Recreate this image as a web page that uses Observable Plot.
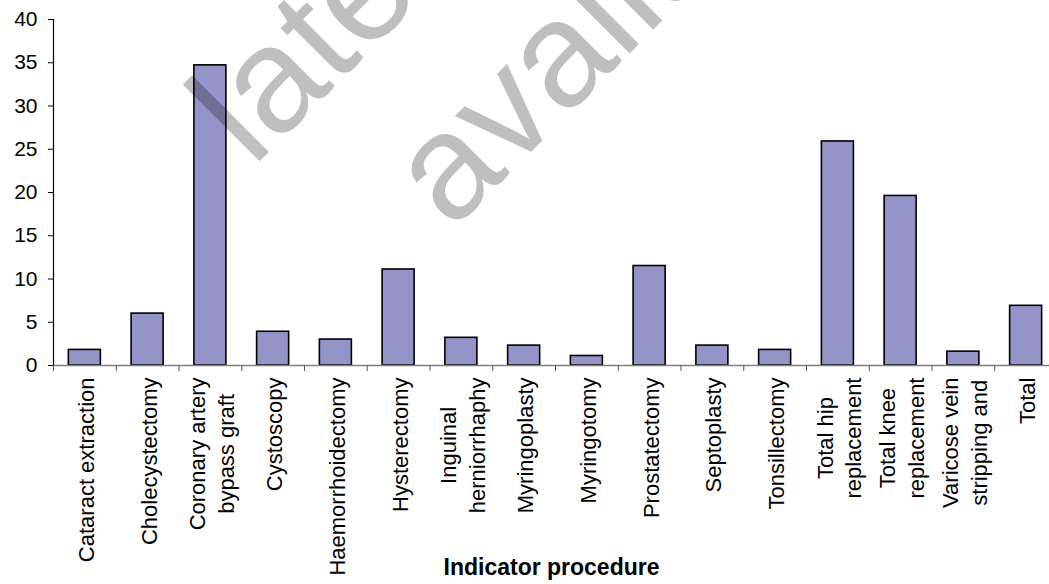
<!DOCTYPE html>
<html>
<head>
<meta charset="utf-8">
<script src="https://cdn.jsdelivr.net/npm/d3@7"></script>
<script src="https://cdn.jsdelivr.net/npm/@observablehq/plot@0.6"></script>
<style>
  html, body { margin: 0; padding: 0; background: #fff; }
  #chart svg { display: block; overflow: hidden; }
</style>
</head>
<body>
<div id="chart"></div>
<script>
// ---- data ----
const procedures = [
  "Cataract extraction",
  "Cholecystectomy",
  "Coronary artery\nbypass graft",
  "Cystoscopy",
  "Haemorrhoidectomy",
  "Hysterectomy",
  "Inguinal\nherniorrhaphy",
  "Myringoplasty",
  "Myringotomy",
  "Prostatectomy",
  "Septoplasty",
  "Tonsillectomy",
  "Total hip\nreplacement",
  "Total knee\nreplacement",
  "Varicose vein\nstripping and",
  "Total"
];
const values = [1.8, 6.0, 34.7, 3.9, 3.0, 11.1, 3.2, 2.3, 1.1, 11.5, 2.3, 1.8, 25.9, 19.6, 1.6, 6.9];
const yTicks = [0, 5, 10, 15, 20, 25, 30, 35, 40];
const axisTitle = "Indicator procedure";
const watermarkLines = ["later", "available"];

// ---- layout ----
const W = 1049, H = 584;
const mLeft = 53, mTop = 19, yZero = 365;
const xRange = [53, 1057];
const step = (xRange[1] - xRange[0]) / procedures.length;
const fontFamily = "'Liberation Sans', Arial, Helvetica, sans-serif";
const fs = 21;     // y tick labels
const fsX = 22;    // x tick labels

const data = procedures.map((p, i) => ({procedure: p, value: values[i]}));

const chart = Plot.plot({
  width: W,
  height: H,
  marginLeft: mLeft,
  marginRight: 0,
  marginTop: mTop,
  marginBottom: H - yZero,
  style: {fontFamily, fontSize: fs + "px", background: "#fff", color: "#000"},
  x: {domain: procedures, range: xRange, padding: 0, round: false},
  y: {domain: [0, 40]},
  marks: [
    Plot.barY(data, {
      x: "procedure", y: "value",
      fill: "#9494C8", stroke: "#000", strokeWidth: 1.6,
      insetLeft: step * 0.245, insetRight: step * 0.245
    }),
    Plot.ruleY([0], {stroke: "#808080", strokeWidth: 1.3}),
    Plot.ruleX([procedures[0]], {y1: 0, y2: 40, dx: -step / 2, stroke: "#000", strokeWidth: 1.2}),
    Plot.axisY({ticks: yTicks, tickSize: 5, tickPadding: 11, fontSize: fs, stroke: "#000", label: null}),
    Plot.axisX({tickSize: 6, tickFormat: () => "", dx: -step / 2, stroke: "#555", label: null}),
    Plot.axisX({tickSize: 0, tickPadding: 12, tickRotate: -90, fontSize: fsX, dx: 2, label: null}),
    Plot.text([axisTitle], {frameAnchor: "bottom", dy: 209, fontWeight: "bold", fontSize: 23, fill: "#000"}),
    Plot.text([watermarkLines[0]], {
      frameAnchor: "top-left", dx: 252 - mLeft, dy: 168 - mTop,
      rotate: -45, textAnchor: "start", lineAnchor: "bottom",
      fontSize: 150, fill: "#000", fillOpacity: 0.25
    }),
    Plot.text([watermarkLines[1]], {
      frameAnchor: "top-left", dx: 451 - mLeft, dy: 231 - mTop,
      rotate: -45, textAnchor: "start", lineAnchor: "bottom",
      fontSize: 150, fill: "#000", fillOpacity: 0.25
    })
  ]
});

document.getElementById("chart").append(chart);

// centre the lines of multi-line tick labels within their block
const L = 28.5;
chart.querySelectorAll('g[aria-label="x-axis tick label"] text').forEach(t => {
  const spans = t.querySelectorAll("tspan");
  if (spans.length < 2) return;
  const widths = [...spans].map(s => s.getComputedTextLength());
  const maxW = Math.max(...widths);
  t.setAttribute("text-anchor", "middle");
  t.removeAttribute("dy");
  spans.forEach((s, i) => {
    s.setAttribute("x", -maxW / 2);
    s.removeAttribute("dy");
    s.setAttribute("y", (i - (spans.length - 1) / 2) * L + 0.32 * fsX);
  });
});
</script>
</body>
</html>
